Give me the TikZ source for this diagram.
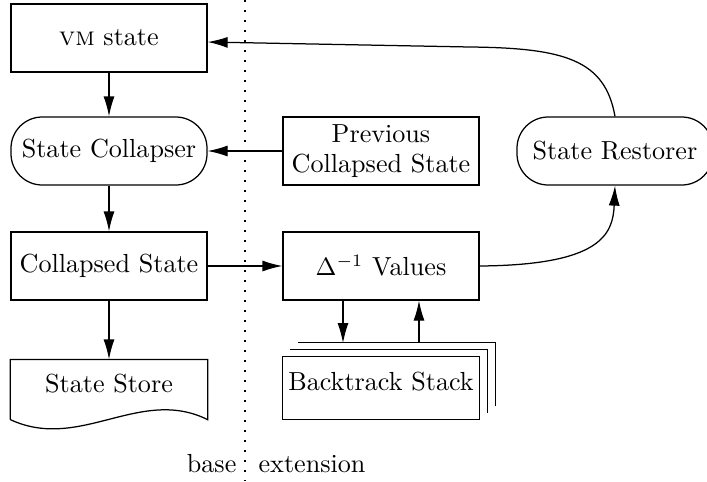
\documentclass[tikz,border=0pt]{standalone}
\usetikzlibrary{arrows.meta}
\begin{document}
\begin{tikzpicture}[x=0.4pt,y=-0.4pt, line width=0.5pt,
  every node/.style={font=\fontsize{10.45}{12.3}\selectfont},
  box/.style={draw, minimum width=78.4pt, minimum height=27.2pt, inner sep=0pt, align=center},
  rbox/.style={box, rounded corners=12.5pt},
  frame/.style={minimum width=78.4pt, minimum height=23.6pt, inner sep=0pt},
  plain/.style={inner sep=0pt, align=center},
  arr/.style={-{Latex[length=8pt,width=4.4pt]}},
  sep/.style={dash pattern=on 0.6pt off 3.4pt}]
\useasboundingbox (0,0) rectangle (707,481);
% separator
\coordinate (septop) at (245,0);
\coordinate (sepbot) at (245,481);
\draw[sep] (septop) -- (sepbot);
\node[plain, anchor=base east] (base) at (237,472) {base};
\node[plain, anchor=base west] (ext) at (258,472) {extension};
% left column
\node[box] (vm) at (109,38) {\textsc{vm} state};
\node[rbox] (coll) at (109,151) {State Collapser};
\node[box] (cst) at (109,266) {Collapsed State};
\node[frame] (store) at (109,389.5) {};
\draw (store.south west) -- (store.north west) -- (store.north east) -- (store.south east)
  .. controls (140,386) and (80,452) .. (store.south west);
\node[plain] (storelabel) at (109,384) {State Store};
% middle column
\node[box] (prev) at (381,151) {Previous\\Collapsed State};
\node[box] (delta) at (381,266) {$\Delta^{-1}$ Values};
\node[frame, minimum height=24.8pt] (stack) at (381,388) {};
\draw ([xshift=6.4pt,yshift=5.6pt]stack.north west) -- ([xshift=6.4pt,yshift=5.6pt]stack.north east) -- ([xshift=6.4pt,yshift=5.6pt]stack.south east);
\draw ([xshift=3.2pt,yshift=2.8pt]stack.north west) -- ([xshift=3.2pt,yshift=2.8pt]stack.north east) -- ([xshift=3.2pt,yshift=2.8pt]stack.south east);
\draw[fill=white] (stack.south west) rectangle (stack.north east);
\node[plain] (stacklabel) at (381,382) {Backtrack Stack};
% right
\node[rbox] (rest) at (615,151) {State Restorer};
% arrows
\draw[arr] (vm) -- (coll);
\draw[arr] (coll) -- (cst);
\draw[arr] (cst) -- (store);
\draw[arr] (prev) -- (coll);
\draw[arr] (cst) -- (delta);
\coordinate (sd) at (343,343);
\coordinate (su) at (419,343);
\draw[arr] (delta.south -| sd) -- (sd);
\draw[arr] (su) -- (delta.south -| su);
\draw[arr] (delta.east) .. controls (600,265) and (613,235) .. (rest.south);
\coordinate (tc) at (470,47);
\draw[arr] (rest.north) .. controls (605,60) and (565,48) .. (tc) -- ([yshift=-1.6pt]vm.east);
\end{tikzpicture}
\end{document}
